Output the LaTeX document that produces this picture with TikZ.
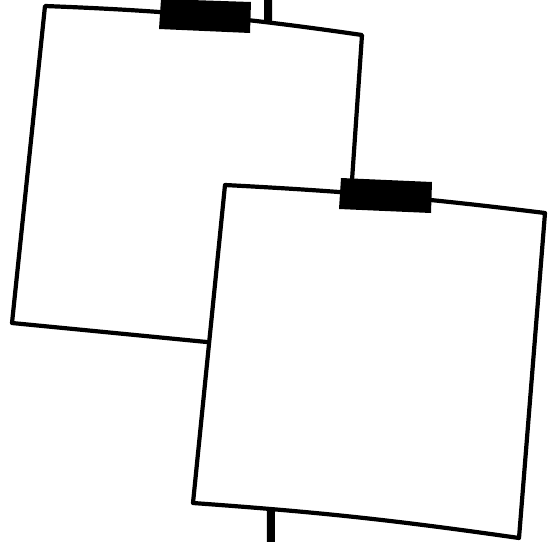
\documentclass[tikz,border=0pt]{standalone}
\usepackage{tikz}

\tikzset{
  note/.style={draw=black, fill=white, line width=4.2pt, line join=round},
  tape/.style={fill=black},
  pin/.style={draw=black, line width=8pt}
}

\begin{document}
\begin{tikzpicture}[x=1pt, y=-1pt]
  \useasboundingbox (0,0) rectangle (554,541);
  % string behind the notes
  \coordinate (s1) at (268,-2);
  \coordinate (s2) at (271,543);
  \draw[pin] (s1) -- (s2);
  % first note
  \coordinate (a1) at (45,6);
  \coordinate (a2) at (362,35);
  \coordinate (a3) at (340,355);
  \coordinate (a4) at (12,323);
  \draw[note] (a1) to[bend left=3] (a2) -- (a3) -- (a4) -- cycle;
  \fill[tape] (161,-1) -- (251,2) -- (250,33) -- (159,29) -- cycle;
  % second note
  \coordinate (b1) at (225,185);
  \coordinate (b2) at (545,213);
  \coordinate (b3) at (519,538);
  \coordinate (b4) at (193,503);
  \draw[note] (b1) to[bend left=2] (b2) -- (b3) to[bend right=2] (b4) -- cycle;
  \fill[tape] (341,178) -- (432,182) -- (431,213) -- (339,209) -- cycle;
\end{tikzpicture}
\end{document}
